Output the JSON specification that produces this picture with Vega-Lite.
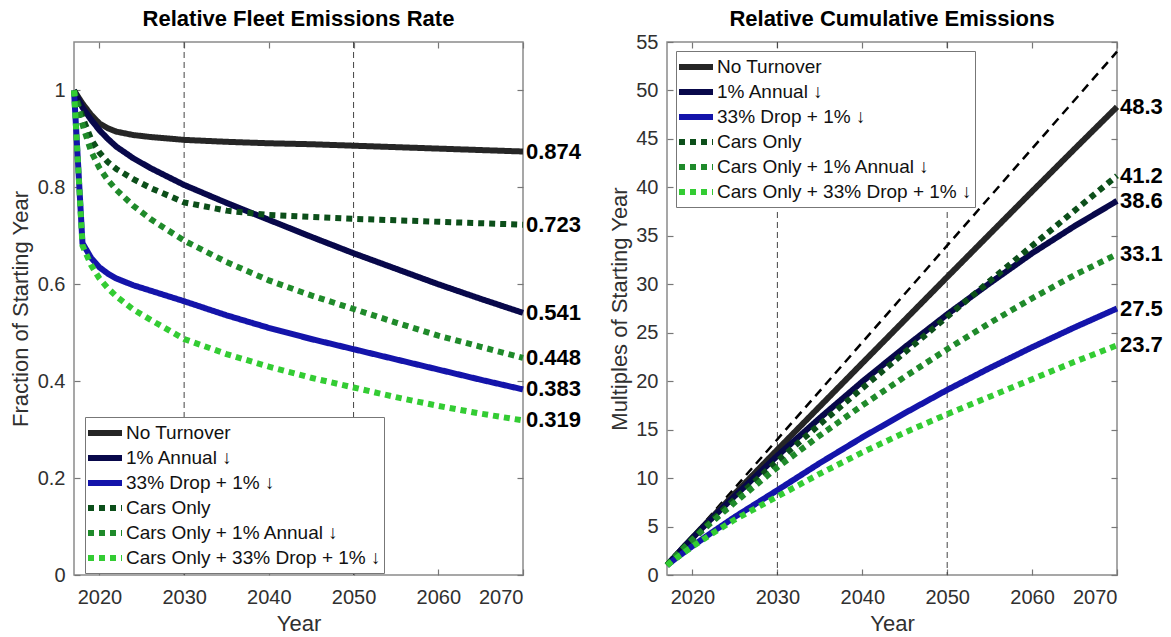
{
  "$schema": "https://vega.github.io/schema/vega-lite/v6.json",
  "padding": {"left": 8, "top": 7, "right": 5, "bottom": 5},
  "background": "white",
  "bounds": "flush",
  "spacing": 144,
  "config": {
    "font": "Liberation Sans",
    "view": {"stroke": "#8a8a8a", "strokeWidth": 1.5},
    "axis": {"domain": false, "grid": false, "labelFont": "Liberation Sans", "labelFontSize": 20, "labelColor": "#303030", "titleFont": "Liberation Sans", "titleFontSize": 22, "titleFontWeight": "normal", "titleColor": "#303030", "tickColor": "#777777", "tickSize": -6, "tickWidth": 1.2},
    "title": {"fontSize": 22, "font": "Liberation Sans", "fontWeight": "bold", "color": "#000000", "anchor": "middle"},
    "legend": {"title": null, "fillColor": "white", "strokeColor": "#777777", "padding": 3, "symbolType": "M-1.7,0H1.7", "symbolSize": 400, "symbolOffset": 4, "symbolStrokeWidth": 6, "labelFont": "Liberation Sans, DejaVu Sans", "labelFontSize": 19, "labelColor": "#111111", "labelLimit": 500, "rowPadding": 0, "labelOffset": 8}
  },
  "datasets": {
    "rate": [
      {"series": "No Turnover", "year": 2017, "value": 1.0},
      {"series": "No Turnover", "year": 2018, "value": 0.973},
      {"series": "No Turnover", "year": 2019, "value": 0.95},
      {"series": "No Turnover", "year": 2020, "value": 0.932},
      {"series": "No Turnover", "year": 2021, "value": 0.922},
      {"series": "No Turnover", "year": 2022, "value": 0.915},
      {"series": "No Turnover", "year": 2024, "value": 0.908},
      {"series": "No Turnover", "year": 2026, "value": 0.904},
      {"series": "No Turnover", "year": 2030, "value": 0.898},
      {"series": "No Turnover", "year": 2035, "value": 0.894},
      {"series": "No Turnover", "year": 2040, "value": 0.891},
      {"series": "No Turnover", "year": 2045, "value": 0.889},
      {"series": "No Turnover", "year": 2050, "value": 0.886},
      {"series": "No Turnover", "year": 2055, "value": 0.883},
      {"series": "No Turnover", "year": 2060, "value": 0.88},
      {"series": "No Turnover", "year": 2065, "value": 0.877},
      {"series": "No Turnover", "year": 2070, "value": 0.874},
      {"series": "1% Annual ↓", "year": 2017, "value": 1.0},
      {"series": "1% Annual ↓", "year": 2018, "value": 0.965},
      {"series": "1% Annual ↓", "year": 2019, "value": 0.94},
      {"series": "1% Annual ↓", "year": 2020, "value": 0.918},
      {"series": "1% Annual ↓", "year": 2021, "value": 0.9},
      {"series": "1% Annual ↓", "year": 2022, "value": 0.884},
      {"series": "1% Annual ↓", "year": 2024, "value": 0.86},
      {"series": "1% Annual ↓", "year": 2026, "value": 0.84},
      {"series": "1% Annual ↓", "year": 2030, "value": 0.805},
      {"series": "1% Annual ↓", "year": 2035, "value": 0.768},
      {"series": "1% Annual ↓", "year": 2040, "value": 0.733},
      {"series": "1% Annual ↓", "year": 2045, "value": 0.698},
      {"series": "1% Annual ↓", "year": 2050, "value": 0.664},
      {"series": "1% Annual ↓", "year": 2055, "value": 0.632},
      {"series": "1% Annual ↓", "year": 2060, "value": 0.6},
      {"series": "1% Annual ↓", "year": 2065, "value": 0.57},
      {"series": "1% Annual ↓", "year": 2070, "value": 0.541},
      {"series": "33% Drop + 1% ↓", "year": 2017, "value": 1.0},
      {"series": "33% Drop + 1% ↓", "year": 2018, "value": 0.685},
      {"series": "33% Drop + 1% ↓", "year": 2019, "value": 0.655},
      {"series": "33% Drop + 1% ↓", "year": 2020, "value": 0.635},
      {"series": "33% Drop + 1% ↓", "year": 2021, "value": 0.622},
      {"series": "33% Drop + 1% ↓", "year": 2022, "value": 0.612},
      {"series": "33% Drop + 1% ↓", "year": 2024, "value": 0.598},
      {"series": "33% Drop + 1% ↓", "year": 2026, "value": 0.587},
      {"series": "33% Drop + 1% ↓", "year": 2030, "value": 0.565},
      {"series": "33% Drop + 1% ↓", "year": 2035, "value": 0.536},
      {"series": "33% Drop + 1% ↓", "year": 2040, "value": 0.51},
      {"series": "33% Drop + 1% ↓", "year": 2045, "value": 0.487},
      {"series": "33% Drop + 1% ↓", "year": 2050, "value": 0.466},
      {"series": "33% Drop + 1% ↓", "year": 2055, "value": 0.445},
      {"series": "33% Drop + 1% ↓", "year": 2060, "value": 0.424},
      {"series": "33% Drop + 1% ↓", "year": 2065, "value": 0.403},
      {"series": "33% Drop + 1% ↓", "year": 2070, "value": 0.383},
      {"series": "Cars Only", "year": 2017, "value": 1.0},
      {"series": "Cars Only", "year": 2018, "value": 0.945},
      {"series": "Cars Only", "year": 2019, "value": 0.9},
      {"series": "Cars Only", "year": 2020, "value": 0.872},
      {"series": "Cars Only", "year": 2021, "value": 0.852},
      {"series": "Cars Only", "year": 2022, "value": 0.838},
      {"series": "Cars Only", "year": 2024, "value": 0.817},
      {"series": "Cars Only", "year": 2026, "value": 0.799},
      {"series": "Cars Only", "year": 2030, "value": 0.769},
      {"series": "Cars Only", "year": 2035, "value": 0.752},
      {"series": "Cars Only", "year": 2040, "value": 0.743},
      {"series": "Cars Only", "year": 2045, "value": 0.739},
      {"series": "Cars Only", "year": 2050, "value": 0.735},
      {"series": "Cars Only", "year": 2055, "value": 0.732},
      {"series": "Cars Only", "year": 2060, "value": 0.729},
      {"series": "Cars Only", "year": 2065, "value": 0.726},
      {"series": "Cars Only", "year": 2070, "value": 0.723},
      {"series": "Cars Only + 1% Annual ↓", "year": 2017, "value": 1.0},
      {"series": "Cars Only + 1% Annual ↓", "year": 2018, "value": 0.93},
      {"series": "Cars Only + 1% Annual ↓", "year": 2019, "value": 0.875},
      {"series": "Cars Only + 1% Annual ↓", "year": 2020, "value": 0.84},
      {"series": "Cars Only + 1% Annual ↓", "year": 2021, "value": 0.815},
      {"series": "Cars Only + 1% Annual ↓", "year": 2022, "value": 0.795},
      {"series": "Cars Only + 1% Annual ↓", "year": 2024, "value": 0.762},
      {"series": "Cars Only + 1% Annual ↓", "year": 2026, "value": 0.735},
      {"series": "Cars Only + 1% Annual ↓", "year": 2030, "value": 0.69},
      {"series": "Cars Only + 1% Annual ↓", "year": 2035, "value": 0.646},
      {"series": "Cars Only + 1% Annual ↓", "year": 2040, "value": 0.608},
      {"series": "Cars Only + 1% Annual ↓", "year": 2045, "value": 0.577},
      {"series": "Cars Only + 1% Annual ↓", "year": 2050, "value": 0.549},
      {"series": "Cars Only + 1% Annual ↓", "year": 2055, "value": 0.521},
      {"series": "Cars Only + 1% Annual ↓", "year": 2060, "value": 0.494},
      {"series": "Cars Only + 1% Annual ↓", "year": 2065, "value": 0.471},
      {"series": "Cars Only + 1% Annual ↓", "year": 2070, "value": 0.448},
      {"series": "Cars Only + 33% Drop + 1% ↓", "year": 2017, "value": 1.0},
      {"series": "Cars Only + 33% Drop + 1% ↓", "year": 2018, "value": 0.68},
      {"series": "Cars Only + 33% Drop + 1% ↓", "year": 2019, "value": 0.64},
      {"series": "Cars Only + 33% Drop + 1% ↓", "year": 2020, "value": 0.612},
      {"series": "Cars Only + 33% Drop + 1% ↓", "year": 2021, "value": 0.592},
      {"series": "Cars Only + 33% Drop + 1% ↓", "year": 2022, "value": 0.575},
      {"series": "Cars Only + 33% Drop + 1% ↓", "year": 2024, "value": 0.548},
      {"series": "Cars Only + 33% Drop + 1% ↓", "year": 2026, "value": 0.527},
      {"series": "Cars Only + 33% Drop + 1% ↓", "year": 2030, "value": 0.487},
      {"series": "Cars Only + 33% Drop + 1% ↓", "year": 2035, "value": 0.456},
      {"series": "Cars Only + 33% Drop + 1% ↓", "year": 2040, "value": 0.43},
      {"series": "Cars Only + 33% Drop + 1% ↓", "year": 2045, "value": 0.407},
      {"series": "Cars Only + 33% Drop + 1% ↓", "year": 2050, "value": 0.387},
      {"series": "Cars Only + 33% Drop + 1% ↓", "year": 2055, "value": 0.367},
      {"series": "Cars Only + 33% Drop + 1% ↓", "year": 2060, "value": 0.349},
      {"series": "Cars Only + 33% Drop + 1% ↓", "year": 2065, "value": 0.333},
      {"series": "Cars Only + 33% Drop + 1% ↓", "year": 2070, "value": 0.319}
    ],
    "cum": [
      {"series": "No Turnover", "year": 2017, "value": 1},
      {"series": "No Turnover", "year": 2018, "value": 1.97},
      {"series": "No Turnover", "year": 2019, "value": 2.92},
      {"series": "No Turnover", "year": 2020, "value": 3.85},
      {"series": "No Turnover", "year": 2022, "value": 5.69},
      {"series": "No Turnover", "year": 2025, "value": 8.41},
      {"series": "No Turnover", "year": 2030, "value": 12.93},
      {"series": "No Turnover", "year": 2035, "value": 17.4},
      {"series": "No Turnover", "year": 2040, "value": 21.86},
      {"series": "No Turnover", "year": 2045, "value": 26.31},
      {"series": "No Turnover", "year": 2050, "value": 30.75},
      {"series": "No Turnover", "year": 2055, "value": 35.17},
      {"series": "No Turnover", "year": 2060, "value": 39.58},
      {"series": "No Turnover", "year": 2065, "value": 43.96},
      {"series": "No Turnover", "year": 2070, "value": 48.3},
      {"series": "1% Annual ↓", "year": 2017, "value": 1},
      {"series": "1% Annual ↓", "year": 2018, "value": 1.97},
      {"series": "1% Annual ↓", "year": 2019, "value": 2.91},
      {"series": "1% Annual ↓", "year": 2020, "value": 3.83},
      {"series": "1% Annual ↓", "year": 2022, "value": 5.61},
      {"series": "1% Annual ↓", "year": 2025, "value": 8.17},
      {"series": "1% Annual ↓", "year": 2030, "value": 12.3},
      {"series": "1% Annual ↓", "year": 2035, "value": 16.2},
      {"series": "1% Annual ↓", "year": 2040, "value": 19.95},
      {"series": "1% Annual ↓", "year": 2045, "value": 23.5},
      {"series": "1% Annual ↓", "year": 2050, "value": 26.9},
      {"series": "1% Annual ↓", "year": 2055, "value": 30.1},
      {"series": "1% Annual ↓", "year": 2060, "value": 33.2},
      {"series": "1% Annual ↓", "year": 2065, "value": 36.0},
      {"series": "1% Annual ↓", "year": 2070, "value": 38.6},
      {"series": "33% Drop + 1% ↓", "year": 2017, "value": 1},
      {"series": "33% Drop + 1% ↓", "year": 2018, "value": 1.69},
      {"series": "33% Drop + 1% ↓", "year": 2019, "value": 2.34},
      {"series": "33% Drop + 1% ↓", "year": 2020, "value": 2.98},
      {"series": "33% Drop + 1% ↓", "year": 2022, "value": 4.22},
      {"series": "33% Drop + 1% ↓", "year": 2025, "value": 6.0},
      {"series": "33% Drop + 1% ↓", "year": 2030, "value": 8.75},
      {"series": "33% Drop + 1% ↓", "year": 2035, "value": 11.55},
      {"series": "33% Drop + 1% ↓", "year": 2040, "value": 14.2},
      {"series": "33% Drop + 1% ↓", "year": 2045, "value": 16.7},
      {"series": "33% Drop + 1% ↓", "year": 2050, "value": 19.1},
      {"series": "33% Drop + 1% ↓", "year": 2055, "value": 21.35},
      {"series": "33% Drop + 1% ↓", "year": 2060, "value": 23.5},
      {"series": "33% Drop + 1% ↓", "year": 2065, "value": 25.55},
      {"series": "33% Drop + 1% ↓", "year": 2070, "value": 27.5},
      {"series": "Cars Only", "year": 2017, "value": 1},
      {"series": "Cars Only", "year": 2018, "value": 1.95},
      {"series": "Cars Only", "year": 2019, "value": 2.85},
      {"series": "Cars Only", "year": 2020, "value": 3.72},
      {"series": "Cars Only", "year": 2022, "value": 5.41},
      {"series": "Cars Only", "year": 2025, "value": 7.85},
      {"series": "Cars Only", "year": 2030, "value": 11.75},
      {"series": "Cars Only", "year": 2035, "value": 15.55},
      {"series": "Cars Only", "year": 2040, "value": 19.27},
      {"series": "Cars Only", "year": 2045, "value": 22.97},
      {"series": "Cars Only", "year": 2050, "value": 26.65},
      {"series": "Cars Only", "year": 2055, "value": 30.32},
      {"series": "Cars Only", "year": 2060, "value": 33.97},
      {"series": "Cars Only", "year": 2065, "value": 37.6},
      {"series": "Cars Only", "year": 2070, "value": 41.2},
      {"series": "Cars Only + 1% Annual ↓", "year": 2017, "value": 1},
      {"series": "Cars Only + 1% Annual ↓", "year": 2018, "value": 1.93},
      {"series": "Cars Only + 1% Annual ↓", "year": 2019, "value": 2.8},
      {"series": "Cars Only + 1% Annual ↓", "year": 2020, "value": 3.64},
      {"series": "Cars Only + 1% Annual ↓", "year": 2022, "value": 5.25},
      {"series": "Cars Only + 1% Annual ↓", "year": 2025, "value": 7.5},
      {"series": "Cars Only + 1% Annual ↓", "year": 2030, "value": 11.1},
      {"series": "Cars Only + 1% Annual ↓", "year": 2035, "value": 14.4},
      {"series": "Cars Only + 1% Annual ↓", "year": 2040, "value": 17.5},
      {"series": "Cars Only + 1% Annual ↓", "year": 2045, "value": 20.45},
      {"series": "Cars Only + 1% Annual ↓", "year": 2050, "value": 23.3},
      {"series": "Cars Only + 1% Annual ↓", "year": 2055, "value": 26.0},
      {"series": "Cars Only + 1% Annual ↓", "year": 2060, "value": 28.55},
      {"series": "Cars Only + 1% Annual ↓", "year": 2065, "value": 30.95},
      {"series": "Cars Only + 1% Annual ↓", "year": 2070, "value": 33.1},
      {"series": "Cars Only + 33% Drop + 1% ↓", "year": 2017, "value": 1},
      {"series": "Cars Only + 33% Drop + 1% ↓", "year": 2018, "value": 1.68},
      {"series": "Cars Only + 33% Drop + 1% ↓", "year": 2019, "value": 2.32},
      {"series": "Cars Only + 33% Drop + 1% ↓", "year": 2020, "value": 2.93},
      {"series": "Cars Only + 33% Drop + 1% ↓", "year": 2022, "value": 4.1},
      {"series": "Cars Only + 33% Drop + 1% ↓", "year": 2025, "value": 5.72},
      {"series": "Cars Only + 33% Drop + 1% ↓", "year": 2030, "value": 8.1},
      {"series": "Cars Only + 33% Drop + 1% ↓", "year": 2035, "value": 10.45},
      {"series": "Cars Only + 33% Drop + 1% ↓", "year": 2040, "value": 12.65},
      {"series": "Cars Only + 33% Drop + 1% ↓", "year": 2045, "value": 14.7},
      {"series": "Cars Only + 33% Drop + 1% ↓", "year": 2050, "value": 16.6},
      {"series": "Cars Only + 33% Drop + 1% ↓", "year": 2055, "value": 18.4},
      {"series": "Cars Only + 33% Drop + 1% ↓", "year": 2060, "value": 20.2},
      {"series": "Cars Only + 33% Drop + 1% ↓", "year": 2065, "value": 22.0},
      {"series": "Cars Only + 33% Drop + 1% ↓", "year": 2070, "value": 23.7}
    ],
    "rateEnd": [
      {"year": 2070, "value": 0.874, "label": "0.874"},
      {"year": 2070, "value": 0.723, "label": "0.723"},
      {"year": 2070, "value": 0.541, "label": "0.541"},
      {"year": 2070, "value": 0.448, "label": "0.448"},
      {"year": 2070, "value": 0.383, "label": "0.383"},
      {"year": 2070, "value": 0.319, "label": "0.319"}
    ],
    "cumEnd": [
      {"year": 2070, "value": 48.3, "label": "48.3"},
      {"year": 2070, "value": 41.2, "label": "41.2"},
      {"year": 2070, "value": 38.6, "label": "38.6"},
      {"year": 2070, "value": 33.1, "label": "33.1"},
      {"year": 2070, "value": 27.5, "label": "27.5"},
      {"year": 2070, "value": 23.7, "label": "23.7"}
    ],
    "refYears": [{"year": 2030}, {"year": 2050}],
    "diag": [{"year": 2017, "value": 1}, {"year": 2070, "value": 54}]
  },
  "hconcat": [
    {
      "title": {"text": "Relative Fleet Emissions Rate", "offset": 10},
      "width": 449,
      "height": 533,
      "layer": [
        {
          "data": {"name": "refYears"},
          "mark": {"type": "rule", "color": "#444444", "strokeWidth": 1, "strokeDash": [6, 4]},
          "encoding": {"x": {"field": "year", "type": "quantitative", "scale": {"domain": [2017, 2070], "nice": false}, "axis": null}}
        },
        {
          "data": {"name": "rate"},
          "mark": {"type": "line", "strokeWidth": 6},
          "encoding": {
            "x": {"field": "year", "type": "quantitative", "scale": {"domain": [2017, 2070], "nice": false}, "axis": {"orient": "bottom", "values": [2020, 2030, 2040, 2050, 2060, 2070], "format": "d", "title": "Year", "labelPadding": 18, "titlePadding": 6}},
            "y": {"field": "value", "type": "quantitative", "scale": {"domain": [0, 1.1], "nice": false}, "axis": {"orient": "left", "values": [0, 0.2, 0.4, 0.6, 0.8, 1], "format": "~g", "title": "Fraction of Starting Year", "labelPadding": 15, "titlePadding": 5}},
            "color": {"field": "series", "type": "nominal", "sort": null,
              "scale": {"domain": ["No Turnover", "1% Annual ↓", "33% Drop + 1% ↓", "Cars Only", "Cars Only + 1% Annual ↓", "Cars Only + 33% Drop + 1% ↓"], "range": ["#262626", "#08084a", "#1414aa", "#0c4f1a", "#1f8a2a", "#33cc33"]},
              "legend": {"orient": "none", "legendX": 11, "legendY": 375}},
            "strokeDash": {"field": "series", "type": "nominal", "sort": null,
              "scale": {"domain": ["No Turnover", "1% Annual ↓", "33% Drop + 1% ↓", "Cars Only", "Cars Only + 1% Annual ↓", "Cars Only + 33% Drop + 1% ↓"], "range": [[1, 0], [1, 0], [1, 0], [6, 5], [6, 5], [6, 5]]},
              "legend": {"orient": "none", "legendX": 11, "legendY": 375}}
          }
        },
        {
          "data": {"name": "rateEnd"},
          "mark": {"type": "text", "align": "left", "baseline": "middle", "dx": 3, "fontSize": 22, "fontWeight": "bold", "color": "#000000", "font": "Liberation Sans"},
          "encoding": {
            "x": {"field": "year", "type": "quantitative", "scale": {"domain": [2017, 2070], "nice": false}, "axis": {"orient": "top", "labels": false, "title": null, "values": [2020, 2030, 2040, 2050, 2060, 2070]}},
            "y": {"field": "value", "type": "quantitative", "scale": {"domain": [0, 1.1], "nice": false}, "axis": {"orient": "right", "labels": false, "title": null, "values": [0, 0.2, 0.4, 0.6, 0.8, 1]}},
            "text": {"field": "label"}
          }
        }
      ],
      "resolve": {"axis": {"x": "independent", "y": "independent"}}
    },
    {
      "title": {"text": "Relative Cumulative Emissions", "offset": 1},
      "width": 450,
      "height": 533,
      "layer": [
        {
          "data": {"name": "refYears"},
          "mark": {"type": "rule", "color": "#444444", "strokeWidth": 1, "strokeDash": [6, 4]},
          "encoding": {"x": {"field": "year", "type": "quantitative", "scale": {"domain": [2017, 2070], "nice": false}, "axis": null}}
        },
        {
          "data": {"name": "diag"},
          "mark": {"type": "line", "color": "#000000", "strokeWidth": 2.5, "strokeDash": [9, 6]},
          "encoding": {
            "x": {"field": "year", "type": "quantitative", "scale": {"domain": [2017, 2070], "nice": false}, "axis": null},
            "y": {"field": "value", "type": "quantitative", "scale": {"domain": [0, 55], "nice": false}, "axis": null}
          }
        },
        {
          "data": {"name": "cum"},
          "mark": {"type": "line", "strokeWidth": 6},
          "encoding": {
            "x": {"field": "year", "type": "quantitative", "scale": {"domain": [2017, 2070], "nice": false}, "axis": {"orient": "bottom", "values": [2020, 2030, 2040, 2050, 2060, 2070], "format": "d", "title": "Year", "labelPadding": 18, "titlePadding": 6}},
            "y": {"field": "value", "type": "quantitative", "scale": {"domain": [0, 55], "nice": false}, "axis": {"orient": "left", "values": [0, 5, 10, 15, 20, 25, 30, 35, 40, 45, 50, 55], "format": "d", "title": "Multiples of Starting Year", "labelPadding": 15, "titlePadding": 4}},
            "color": {"field": "series", "type": "nominal", "sort": null,
              "scale": {"domain": ["No Turnover", "1% Annual ↓", "33% Drop + 1% ↓", "Cars Only", "Cars Only + 1% Annual ↓", "Cars Only + 33% Drop + 1% ↓"], "range": ["#262626", "#08084a", "#1414aa", "#0c4f1a", "#1f8a2a", "#33cc33"]},
              "legend": {"orient": "none", "legendX": 9, "legendY": 9}},
            "strokeDash": {"field": "series", "type": "nominal", "sort": null,
              "scale": {"domain": ["No Turnover", "1% Annual ↓", "33% Drop + 1% ↓", "Cars Only", "Cars Only + 1% Annual ↓", "Cars Only + 33% Drop + 1% ↓"], "range": [[1, 0], [1, 0], [1, 0], [6, 5], [6, 5], [6, 5]]},
              "legend": {"orient": "none", "legendX": 9, "legendY": 9}}
          }
        },
        {
          "data": {"name": "cumEnd"},
          "mark": {"type": "text", "align": "left", "baseline": "middle", "dx": 3, "fontSize": 22, "fontWeight": "bold", "color": "#000000", "font": "Liberation Sans"},
          "encoding": {
            "x": {"field": "year", "type": "quantitative", "scale": {"domain": [2017, 2070], "nice": false}, "axis": {"orient": "top", "labels": false, "title": null, "values": [2020, 2030, 2040, 2050, 2060, 2070]}},
            "y": {"field": "value", "type": "quantitative", "scale": {"domain": [0, 55], "nice": false}, "axis": {"orient": "right", "labels": false, "title": null, "values": [0, 5, 10, 15, 20, 25, 30, 35, 40, 45, 50, 55]}},
            "text": {"field": "label"}
          }
        }
      ],
      "resolve": {"axis": {"x": "independent", "y": "independent"}}
    }
  ],
  "resolve": {
    "scale": {"x": "independent", "y": "independent", "color": "independent", "strokeDash": "independent"},
    "legend": {"color": "independent", "strokeDash": "independent"}
  }
}
